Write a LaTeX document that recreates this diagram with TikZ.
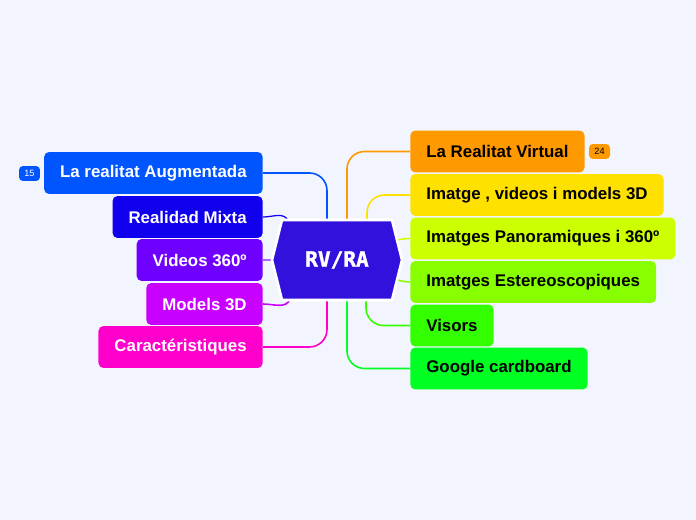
\documentclass[tikz,border=0pt]{standalone}
\usepackage{fontspec}
\setmainfont{Liberation Sans}
\newfontfamily\hubfont{DejaVu Sans Mono}[BoldFont={DejaVu Sans Mono Bold}, BoldFeatures={FakeBold=1.5}]
\usepackage{xcolor}
\usetikzlibrary{positioning, shapes.symbols}
\definecolor{paper}{HTML}{F2F5FD}
\definecolor{hubc}{HTML}{3311DD}
\definecolor{augc}{HTML}{0055FF}
\definecolor{mixc}{HTML}{1100EE}
\definecolor{vidc}{HTML}{6F00FF}
\definecolor{modc}{HTML}{C800FF}
\definecolor{carc}{HTML}{FF00CC}
\definecolor{rvc}{HTML}{FF9900}
\definecolor{imgc}{HTML}{FFE100}
\definecolor{panc}{HTML}{CCFF00}
\definecolor{estc}{HTML}{88FF00}
\definecolor{visc}{HTML}{33FF00}
\definecolor{gooc}{HTML}{00FF22}

\begin{document}
\begin{tikzpicture}[
  x=0.02cm, y=-0.02cm,
  hub/.style={
    signal, signal to=west and east, signal pointer angle=152,
    fill=hubc, draw=white, line width=1.5pt, text=white,
    minimum width=2.6cm, minimum height=1.6cm, inner sep=0pt,
    font=\hubfont\bfseries\fontsize{12}{14}\selectfont
  },
  lnode/.style n args={1}{
    rectangle, rounded corners=0.1cm, fill=#1, text=white,
    font=\fontsize{9.6}{11}\selectfont\bfseries,
    minimum height=0.84cm, inner xsep=0.32cm, anchor=east
  },
  rnode/.style n args={1}{
    rectangle, rounded corners=0.1cm, fill=#1, text=black,
    font=\fontsize{9.6}{11}\selectfont\bfseries,
    minimum height=0.84cm, inner xsep=0.32cm, anchor=west
  },
  badge/.style n args={2}{
    rectangle, rounded corners=0.08cm, fill=#1, text=#2,
    font=\fontsize{5.2}{6}\selectfont,
    minimum width=0.42cm, minimum height=0.3cm, inner sep=0pt
  },
  link/.style={line width=0.9pt, rounded corners=0.35cm}
]

%% background and size
\fill[paper] (0,0) rectangle (696,520);
\useasboundingbox (0,0) rectangle (696,520);

%% === CENTRE ===
\node[hub] (hub) at (337,260) {RV/RA};

%% === LEFT BRANCHES (right edge x=263) ===
\node[lnode={augc}] (aug) at (263,173) {La realitat Augmentada};
\node[lnode={mixc}] (mix) at (263,217) {Realidad Mixta};
\node[lnode={vidc}] (vid) at (263,260) {Videos 360º};
\node[lnode={modc}] (mod) at (263,304) {Models 3D};
\node[lnode={carc}] (car) at (263,347) {Caractéristiques};

\node[badge={augc}{white}] (augn) at (29.5,173.5) {15};

%% === RIGHT BRANCHES (left edge x=410) ===
\node[rnode={rvc}]  (rv)  at (410,151.5) {La Realitat Virtual\hspace{0.05em}};
\node[rnode={imgc}] (img) at (410,195)   {Imatge , videos i models 3D};
\node[rnode={panc}] (pan) at (410,238.5) {Imatges Panoramiques i 360º};
\node[rnode={estc}] (est) at (410,282)   {Imatges Estereoscopiques};
\node[rnode={visc}] (vis) at (410,325.5) {Visors};
\node[rnode={gooc}] (goo) at (410,368.5) {Google cardboard};

\node[badge={rvc}{black}] (rvn) at (599.5,151.5) {24};

%% === ROOTS ON THE HEXAGON ===
\coordinate (hTL) at (327,221);
\coordinate (hTM) at (288,221);
\coordinate (hBM) at (290,299);
\coordinate (hBL) at (327,299);
\coordinate (hTR) at (347,221);
\coordinate (hTY) at (367,221);
\coordinate (hRU) at (397,240);
\coordinate (hRD) at (397,280);
\coordinate (hBY) at (366,299);
\coordinate (hBR) at (347,299);

%% === CONNECTORS ===
\draw[link, augc] (aug.east) -| (hTL);
\draw[link, mixc, line width=0.7pt] (mix.east) to[out=0, in=110] (hTM);
\draw[link, vidc!60] (vid.east) -- (hub.west);
\draw[link, modc] (mod.east) to[out=0, in=-110] (hBM);
\draw[link, carc] (car.east) -| (hBL);

\draw[link, rvc]  (hTR) |- (rv.west);
\draw[link, imgc] (hTY) |- (img.west);
\draw[link, panc] (hRU) to[out=10, in=180] (pan.west);
\draw[link, estc] (hRD) to[out=-10, in=180] (est.west);
\draw[link, visc] (hBY) |- (vis.west);
\draw[link, gooc] (hBR) |- (goo.west);

%% hexagon again on top of the roots
\node[hub] (hubtop) at (hub) {RV/RA};

\end{tikzpicture}
\end{document}
